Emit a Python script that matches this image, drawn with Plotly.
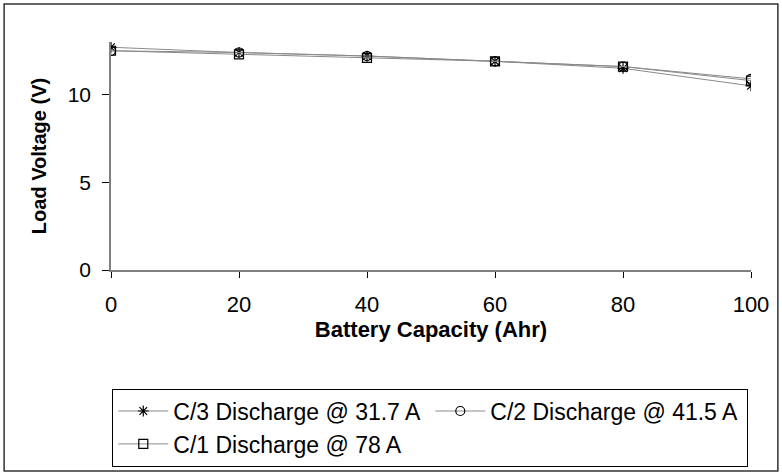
import plotly.graph_objects as go

capacity = [0, 20, 40, 60, 80, 100]
c3_voltage = [12.7, 12.4, 12.2, 11.9, 11.5, 10.5]
c2_voltage = [12.5, 12.4, 12.2, 11.9, 11.6, 10.9]
c1_voltage = [12.5, 12.3, 12.1, 11.9, 11.6, 10.8]

series = [
    ("C/3 Discharge @ 31.7 A", c3_voltage, "asterisk-open"),
    ("C/2 Discharge @ 41.5 A", c2_voltage, "circle-open"),
    ("C/1 Discharge @ 78 A", c1_voltage, "square-open"),
]

FONT = "Liberation Sans, Arial, sans-serif"

fig = go.Figure()
for name, values, symbol in series:
    fig.add_trace(
        go.Scatter(
            x=capacity,
            y=values,
            name=name,
            mode="lines+markers",
            line={"color": "#8a8a8a", "width": 1},
            marker={"symbol": symbol, "size": 9, "color": "#000000", "line": {"width": 1.2, "color": "#000000"}},
        )
    )

fig.update_layout(
    width=782,
    height=475,
    paper_bgcolor="white",
    plot_bgcolor="white",
    margin={"l": 111, "r": 31, "t": 42, "b": 205, "autoexpand": False},
    font={"family": FONT, "size": 20, "color": "#000000"},
    showlegend=True,
    legend={
        "orientation": "h",
        "x": 0.002,
        "xanchor": "left",
        "y": -0.52,
        "yanchor": "top",
        "bordercolor": "#000000",
        "borderwidth": 1,
        "font": {"family": FONT, "size": 23},
        "itemwidth": 50,
        "entrywidth": 252,
        "tracegroupgap": 0,
    },
    shapes=[
        {
            "type": "rect",
            "xref": "paper",
            "yref": "paper",
            "x0": -0.167,
            "x1": 1.042,
            "y0": -0.882,
            "y1": 1.167,
            "line": {"color": "#333333", "width": 1.5},
        }
    ],
)
fig.update_xaxes(
    range=[0, 100],
    tickvals=capacity,
    showgrid=False,
    zeroline=False,
    showline=True,
    linecolor="#808080",
    linewidth=1.5,
    ticks="outside",
    ticklen=6,
    tickcolor="#000000",
    ticklabelstandoff=8,
    tickfont={"size": 22},
    automargin=False,
    title={"text": "<b>Battery Capacity (Ahr)</b>", "font": {"size": 22}, "standoff": 0},
)
fig.update_yaxes(
    range=[0, 13],
    tickvals=[0, 5, 10],
    showgrid=False,
    zeroline=False,
    showline=True,
    linecolor="#808080",
    linewidth=1.5,
    ticks="outside",
    ticklen=7,
    tickcolor="#000000",
    ticklabelstandoff=7,
    tickfont={"size": 21},
    automargin=False,
    title={"text": "<b>Load Voltage (V)</b>", "font": {"size": 20}, "standoff": 16},
)

# drop the default 8px body margin so the figure sits at the window's corner
fig.write_html(
    "out.html",
    config={"displayModeBar": False},
    post_script="document.body.style.margin = '0px';",
)
